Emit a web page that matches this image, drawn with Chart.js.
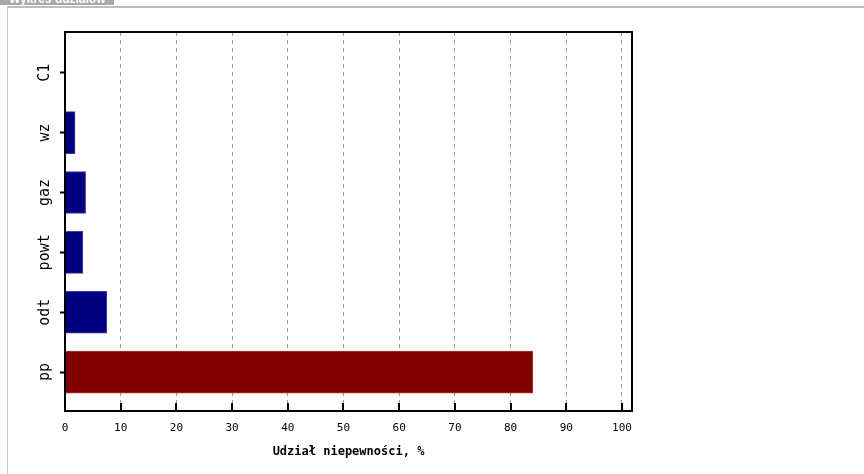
<!DOCTYPE html>
<html>
<head>
<meta charset="utf-8">
<script src="https://cdn.jsdelivr.net/npm/chart.js@4.4.0/dist/chart.umd.min.js"></script>
<style>
  html, body { margin:0; padding:0; background:#fff; width:864px; height:474px; overflow:hidden; }
  .ramka { position:absolute; left:7px; top:6px; right:-4px; bottom:-4px; border-top:2px solid #bdbdbd; border-left:1px solid #c8c8c8; }
  .zakladka { position:absolute; left:0; top:-8px; height:13px; line-height:13px; padding:0 9px; background:#a8a8a8; color:#fff;
              font:bold 12px "Liberation Sans", Arial, sans-serif; }
  .wykres { position:absolute; left:0; top:0; width:864px; height:474px; }
</style>
</head>
<body>
<div class="ramka"></div>
<div class="zakladka">Wykres udziałów</div>
<div class="wykres"><canvas id="cUdzialy"></canvas></div>
<script>
// kategorie od góry do dołu
const kategorie = ['C1', 'wz', 'gaz', 'powt', 'odt', 'pp'];
const udzialy   = [0, 1.8, 3.7, 3.2, 7.5, 84.0];   // %
const osX_min = 0, osX_max = 101.8, osX_krok = 10;
const tytulX = 'Udział niepewności, %';

const FONT = '"DejaVu Sans Mono", monospace';
const GRANAT = '#000080', BORDO = '#800000';

// ramka wykresu + krótkie kreski do środka na osi X
const ramka = {
  id:'ramka',
  afterDraw(chart){
    const { ctx, chartArea:{left, top, right, bottom}, scales:{x} } = chart;
    ctx.save();
    ctx.strokeStyle = '#000';
    ctx.lineWidth = 2;
    ctx.beginPath();
    x.ticks.forEach(t => {
      const px = Math.round(x.getPixelForValue(t.value));
      ctx.moveTo(px, bottom);
      ctx.lineTo(px, bottom - 8);
    });
    ctx.stroke();
    ctx.strokeRect(left, top, right - left, bottom - top);
    ctx.restore();
  }
};

new Chart(document.getElementById('cUdzialy'), {
  type:'bar',
  data:{
    datasets:[{
      data: kategorie.map((k, i) => ({ x: udzialy[i], y: i })),
      backgroundColor: kategorie.map(k => k === 'pp' ? BORDO : GRANAT),
      borderColor: kategorie.map(k => k === 'pp' ? '#a83838' : '#3a3aa0'),
      borderWidth: udzialy.map(v => v > 0 ? 1 : 0),
      borderSkipped: 'start',
      barThickness: 42
    }]
  },
  plugins:[ramka],
  options:{
    indexAxis:'y',
    responsive:true, maintainAspectRatio:false, animation:false,
    layout:{ padding:{ left:0, top:32, right:232, bottom:0 } },
    plugins:{ legend:{ display:false }, tooltip:{ enabled:false } },
    scales:{
      x:{
        type:'linear', position:'bottom', min:osX_min, max:osX_max, z:1,
        afterFit: s => { s.height = 63; },
        ticks:{ stepSize:osX_krok, includeBounds:false, color:'#000', padding:11, font:{ family:FONT, size:11 } },
        grid:{ color: c => c.tick.value === 0 ? 'rgba(0,0,0,0)' : '#9a9a9a', drawTicks:false },
        border:{ display:false, dash:[4,4] },
        title:{ display:true, text:tytulX, color:'#000', padding:{ top:0, bottom:15 },
                font:{ family:FONT, size:12, weight:'bold' } }
      },
      y:{
        type:'linear', position:'left', min:-0.68, max:5.65, reverse:true, offset:false,
        afterFit: s => { s.width = 65; },
        ticks:{ stepSize:1, includeBounds:false, minRotation:90, maxRotation:90, crossAlign:'center', padding:-3,
                color:'#000', font:{ family:FONT, size:15 },
                callback: v => kategorie[v] ?? '' },
        grid:{ offset:false, drawOnChartArea:false, drawTicks:true, tickLength:5, tickWidth:2, tickColor:'#000' },
        border:{ display:false }
      }
    }
  }
});
</script>
</body>
</html>
